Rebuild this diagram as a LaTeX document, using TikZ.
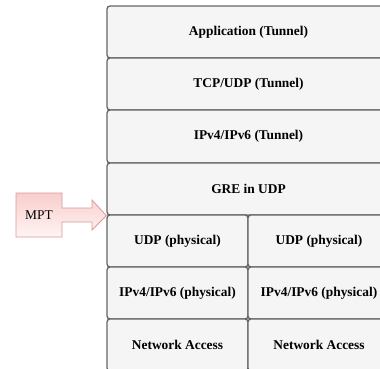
\documentclass[tikz,border=0pt]{standalone}
\usepackage{fontspec}
\setmainfont{Liberation Serif}
\definecolor{boxfill}{HTML}{F5F5F5}
\definecolor{boxline}{HTML}{666666}
\definecolor{mptline}{HTML}{D99A9A}
\definecolor{mpttop}{HTML}{F8CECC}
\definecolor{mptbot}{HTML}{FFF4F4}
\begin{document}
\begin{tikzpicture}[x=1pt,y=-1pt,
  layer/.style={draw=boxline,fill=boxfill,line width=1.3pt,rounded corners=3pt,
    inner sep=0pt,font=\fontsize{13.4}{15}\selectfont\bfseries},
  mptshape/.style={draw=mptline,line width=0.8pt,top color=mpttop,bottom color=mptbot}]
\useasboundingbox (0,0) rectangle (380,368);
\clip (0,0) rectangle (380,368);
% full-width layers
\node[layer,minimum width=283pt,minimum height=52pt] (app) at (248.5,32) {Application (Tunnel)};
\node[layer,minimum width=283pt,minimum height=52pt] (tcp) at (248.5,84) {TCP/UDP (Tunnel)};
\node[layer,minimum width=283pt,minimum height=53pt] (ip) at (248.5,136.5) {IPv4/IPv6 (Tunnel)};
\node[layer,minimum width=283pt,minimum height=52pt] (gre) at (248.5,189) {GRE in UDP};
% split layers
\node[layer,minimum width=141pt,minimum height=52pt] (udpl) at (177.5,241) {UDP (physical)};
\node[layer,minimum width=142pt,minimum height=52pt] (udpr) at (319,241) {UDP (physical)};
\node[layer,minimum width=141pt,minimum height=52pt] (ipl) at (177.5,293) {IPv4/IPv6 (physical)};
\node[layer,minimum width=142pt,minimum height=52pt] (ipr) at (319,293) {IPv4/IPv6 (physical)};
\node[layer,minimum width=141pt,minimum height=52pt] (nal) at (177.5,345) {Network Access};
\node[layer,minimum width=142pt,minimum height=52pt] (nar) at (319,345) {Network Access};
% MPT callout arrow
\coordinate (tip) at (gre.south west);
\draw[mptshape] (16,193) -- (62,193) -- (62,208) -- (92,208) -- (92,200)
  -- (tip) -- (92,230) -- (92,222) -- (62,222) -- (62,237) -- (16,237) -- cycle;
\node[font=\fontsize{13.4}{15}\selectfont] (mpt) at (39,215) {MPT};
\end{tikzpicture}
\end{document}
